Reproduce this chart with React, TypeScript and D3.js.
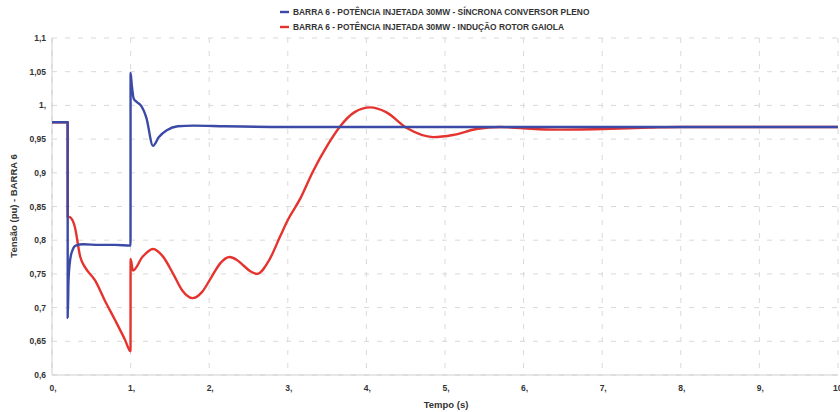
import React from "react";
import * as d3 from "d3";

const xTicks = [0, 1, 2, 3, 4, 5, 6, 7, 8, 9, 10];
const xTickLabels = ["0,", "1,", "2,", "3,", "4,", "5,", "6,", "7,", "8,", "9,", "10,"];
const yTicks = [0.6, 0.65, 0.7, 0.75, 0.8, 0.85, 0.9, 0.95, 1.0, 1.05, 1.1];
const yTickLabels = ["0,6", "0,65", "0,7", "0,75", "0,8", "0,85", "0,9", "0,95", "1,", "1,05", "1,1"];

const seriesNames = [
  "BARRA 6 - POTÊNCIA INJETADA 30MW - SÍNCRONA CONVERSOR PLENO",
  "BARRA 6 - POTÊNCIA INJETADA 30MW - INDUÇÃO ROTOR GAIOLA",
];
const seriesColors = ["#3a4aa6", "#e5332e"];

const syncT = [0, 0.199, 0.2, 0.21, 0.23, 0.26, 0.3, 0.4, 0.6, 0.8, 0.999, 1.0, 1.015, 1.04, 1.08, 1.13, 1.2, 1.285, 1.36, 1.46, 1.6, 1.8, 2.2, 3, 4, 5, 6, 7, 8, 9, 10];
const syncV = [0.975, 0.975, 0.685, 0.74, 0.77, 0.785, 0.792, 0.794, 0.793, 0.793, 0.792, 1.048, 1.03, 1.01, 1.005, 1.0, 0.982, 0.94, 0.953, 0.963, 0.969, 0.97, 0.969, 0.968, 0.968, 0.968, 0.968, 0.968, 0.968, 0.968, 0.968];

const indT = [0, 0.199, 0.2, 0.23, 0.29, 0.36, 0.42, 0.55, 0.67, 0.8, 0.93, 0.999, 1.0, 1.03, 1.15, 1.285, 1.41, 1.54, 1.66, 1.79, 1.9075, 2.025, 2.1425, 2.26, 2.3475, 2.435, 2.5225, 2.61, 2.77, 2.9, 3.0, 3.16, 3.32, 3.5, 3.66, 3.85, 4.05, 4.25, 4.52, 4.85, 5.1, 5.4, 5.7, 6.0, 6.4, 7.0, 7.6, 8, 9, 10];
const indV = [0.975, 0.975, 0.835, 0.834, 0.82, 0.775, 0.76, 0.74, 0.711, 0.682, 0.652, 0.635, 0.772, 0.755, 0.775, 0.787, 0.776, 0.7505, 0.725, 0.714, 0.723, 0.7445, 0.766, 0.775, 0.771, 0.7625, 0.754, 0.75, 0.772, 0.805, 0.83, 0.862, 0.902, 0.94, 0.968, 0.99, 0.997, 0.99, 0.966, 0.953, 0.956, 0.965, 0.968, 0.966, 0.964, 0.965, 0.967, 0.968, 0.968, 0.968];

const W = 840;
const H = 412;

export default function App() {
  const x = d3.scaleLinear().domain([0, 10]).range([52, 838]);
  const y = d3.scaleLinear().domain([0.6, 1.1]).range([375, 38]);

  const line = d3
    .line<[number, number]>()
    .x((d) => x(d[0]))
    .y((d) => y(d[1]))
    .curve(d3.curveMonotoneX);

  const syncData: [number, number][] = syncT.map((t, i) => [t, syncV[i]]);
  const indData: [number, number][] = indT.map((t, i) => [t, indV[i]]);

  const font = "'Liberation Sans', Arial, sans-serif";

  return (
    <svg
      width={W}
      height={H}
      style={{ position: "absolute", left: 0, top: 0, background: "#fff" }}
      fontFamily={font}
    >
      <rect x={0} y={0} width={W} height={H} fill="#fff" />
      {xTicks.map((t) => (
        <line
          key={"gx" + t}
          x1={x(t)}
          x2={x(t)}
          y1={y(1.1)}
          y2={y(0.6)}
          stroke="#d9d9d9"
          strokeWidth={1}
          strokeDasharray="5,8"
        />
      ))}
      {yTicks.map((v) => (
        <line
          key={"gy" + v}
          x1={x(0)}
          x2={x(10)}
          y1={y(v)}
          y2={y(v)}
          stroke="#d9d9d9"
          strokeWidth={1}
          strokeDasharray="5,8"
        />
      ))}
      <line x1={x(0)} x2={x(0)} y1={y(1.1)} y2={y(0.6)} stroke="#cfcfcf" strokeWidth={1} />
      <line x1={x(0)} x2={x(10)} y1={y(0.6)} y2={y(0.6)} stroke="#cfcfcf" strokeWidth={1} />

      {yTicks.map((v, i) => (
        <text
          key={"ty" + v}
          x={x(0) - 6}
          y={y(v) + 3}
          textAnchor="end"
          fontSize={8.5}
          fontWeight="bold"
          fill="#333"
        >
          {yTickLabels[i]}
        </text>
      ))}
      {xTicks.map((t, i) => (
        <text
          key={"tx" + t}
          x={x(t) + 1}
          y={391}
          textAnchor="middle"
          fontSize={8.5}
          fontWeight="bold"
          fill="#333"
        >
          {xTickLabels[i]}
        </text>
      ))}

      <text x={446} y={408} textAnchor="middle" fontSize={9.5} fontWeight="bold" fill="#333">
        Tempo (s)
      </text>
      <text
        transform={`translate(17,${206}) rotate(-90)`}
        textAnchor="middle"
        fontSize={9.5}
        fontWeight="bold"
        fill="#333"
      >
        Tensão (pu) - BARRA 6
      </text>

      <path d={line(indData) || ""} fill="none" stroke={seriesColors[1]} strokeWidth={2.4} strokeLinejoin="round" />
      <path d={line(syncData) || ""} fill="none" stroke={seriesColors[0]} strokeWidth={2.4} strokeLinejoin="round" />

      {seriesNames.map((name, i) => (
        <g key={name} transform={`translate(280,${12 + i * 15})`}>
          <line x1={0} x2={9} y1={0} y2={0} stroke={seriesColors[i]} strokeWidth={2.4} />
          <text x={13} y={3} fontSize={8.4} fontWeight="bold" fill="#333">
            {name}
          </text>
        </g>
      ))}
    </svg>
  );
}
